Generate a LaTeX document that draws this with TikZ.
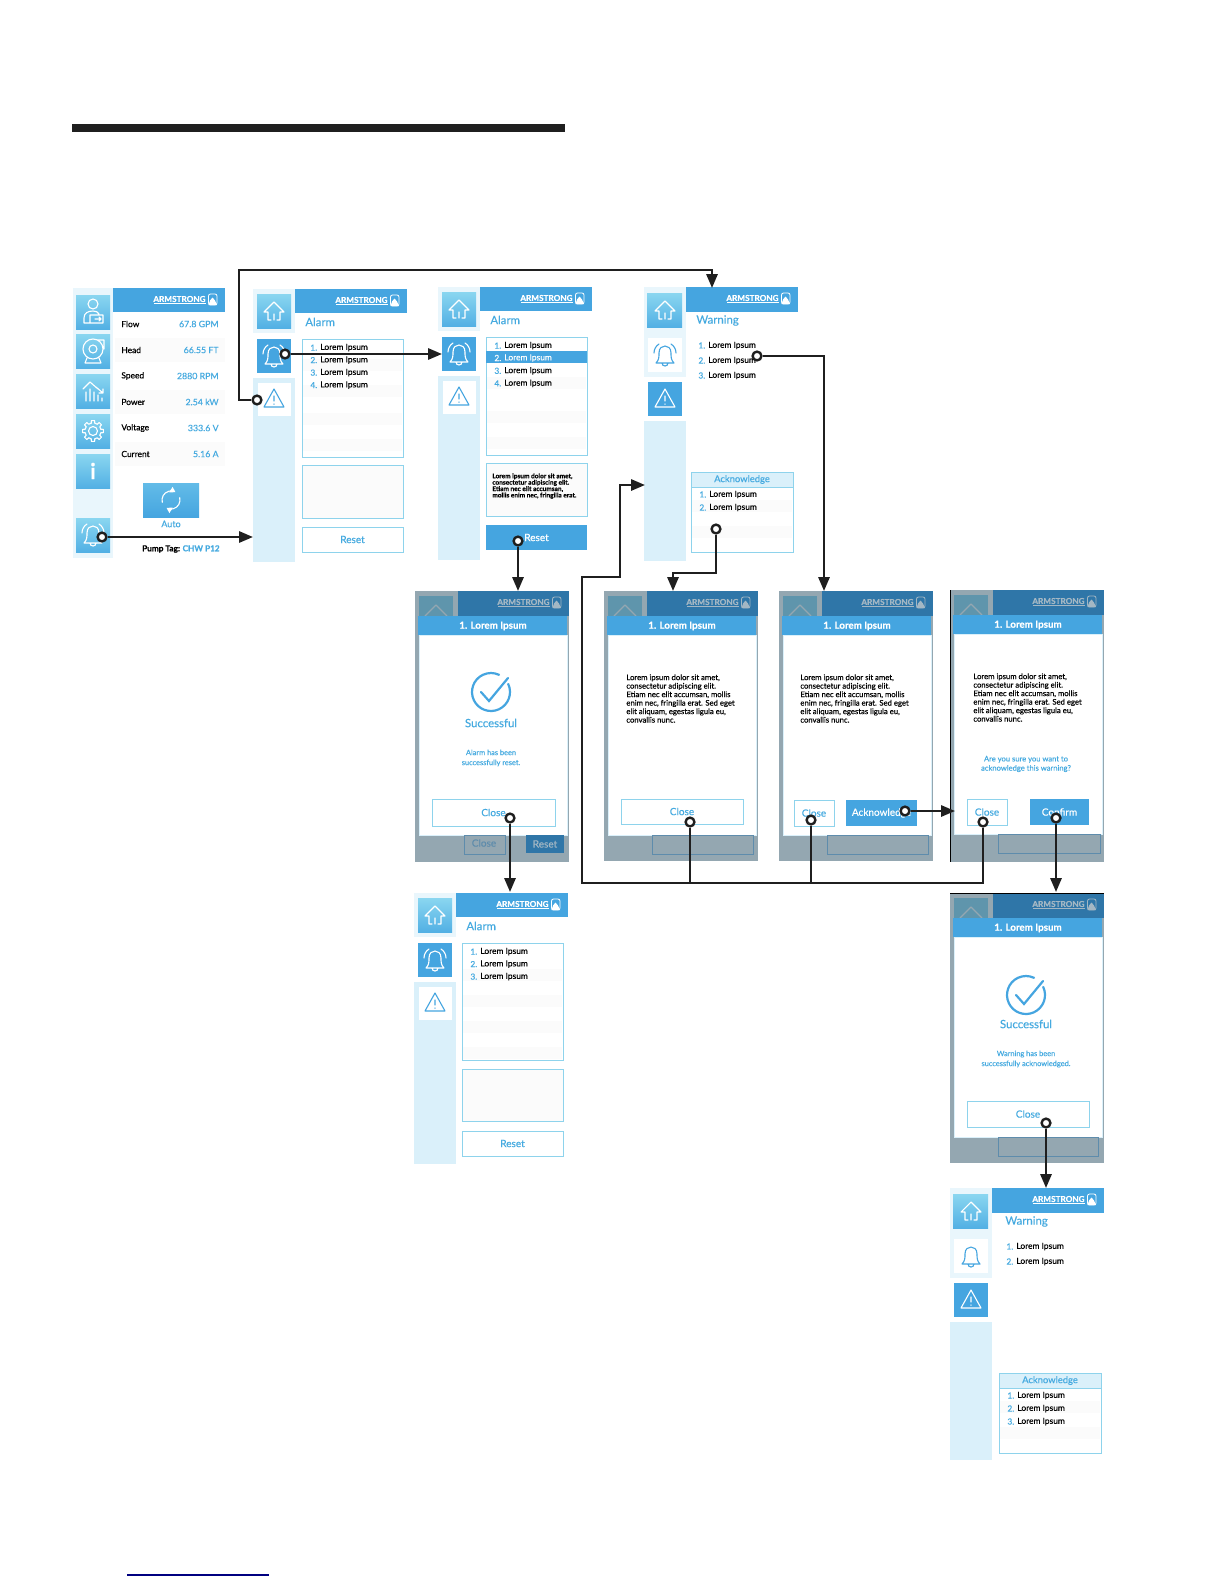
\documentclass[tikz,border=0pt]{standalone}
\usepackage{fontspec}
\setmainfont{Lato}[FakeBold=0.25,BoldFeatures={FakeBold=0.5}]
\usetikzlibrary{arrows.meta}

\definecolor{armblue}{HTML}{45A5E0}
\definecolor{armtext}{HTML}{45AAE0}
\definecolor{armline}{HTML}{8ED3EC}
\definecolor{armpale}{HTML}{DAF0FA}
\definecolor{armfaint}{HTML}{E9F6FC}
\definecolor{armstrip}{HTML}{FBFBFB}
\definecolor{armtop}{HTML}{8AD6F0}
\definecolor{armlow}{HTML}{52B0E4}
\definecolor{dimback}{HTML}{94A7B1}
\definecolor{dimblue}{HTML}{2F76A8}
\definecolor{dimhome}{HTML}{5F95AC}
\definecolor{dimlogo}{HTML}{A3B7C4}
\definecolor{dimedge}{HTML}{5E8CAC}
\definecolor{darkline}{HTML}{1F1F1F}

\tikzset{
  link/.style={line width=1.2pt,draw=darkline,-{Triangle[length=7pt,width=5.6pt]}},
  branch/.style={line width=1.2pt,draw=darkline},
  dot/.style={circle,draw=darkline,fill=white,line width=1.2pt,minimum size=4.4pt,inner sep=0pt},
  iconline/.style={line width=0.55pt,line join=round,line cap=round},
  boxline/.style={draw=armline,line width=0.5pt},
  txt/.style={inner sep=0pt,text=black},
  numtxt/.style={txt,anchor=west,text=armtext,font=\fontsize{4.2}{5}\selectfont},
  itemtxt/.style={txt,anchor=west,font=\fontsize{4.2}{5}\selectfont},
  bluetxt/.style={txt,text=armtext,font=\fontsize{5}{6}\selectfont},
  smalltxt/.style={txt,text=armtext,align=center,font=\fontsize{3.7}{5}\selectfont},
  titletxt/.style={txt,anchor=west,text=armtext,font=\fontsize{5.7}{7}\selectfont},
  bartxt/.style={txt,text=white,font=\fontsize{4.9}{6}\bfseries\selectfont},
  paratxt/.style={txt,anchor=north west,align=left,font=\fontsize{3.85}{4.25}\selectfont},
  logotxt/.style={inner sep=0pt,anchor=east,font=\fontsize{4.1}{5}\bfseries\selectfont},
  button/.style={top color=armtop,bottom color=armlow,draw=none}
}

% icons, y runs downwards
\newcommand{\homeicon}[3]{\draw[iconline,#3,shift={(#1,#2)}]
  (-3,9) -- (-6,9) -- (-6,1) -- (-10,1) -- (0,-9) -- (10,1) -- (6,1) -- (6,9) -- (3,9) (0,9) -- (0,3);}
\newcommand{\bellicon}[3]{\draw[iconline,#3,shift={(#1,#2)}]
  (-9,8) .. controls (-6,5) and (-6,2) .. (-6,-2) .. controls (-6,-7) and (-3,-9) .. (0,-9)
  .. controls (3,-9) and (6,-7) .. (6,-2) .. controls (6,2) and (6,5) .. (9,8) -- cycle
  (-3,8) .. controls (-3,12) and (3,12) .. (3,8);}
\newcommand{\bellwaves}[3]{\draw[iconline,#3,shift={(#1,#2)}]
  (-11,-2) .. controls (-11,-6) and (-9,-9) .. (-6,-11)
  (11,-2) .. controls (11,-6) and (9,-9) .. (6,-11);}
\newcommand{\warnicon}[3]{\draw[iconline,#3,shift={(#1,#2)}]
  (-10,8) -- (0,-10) -- (10,8) -- cycle (0,-3) -- (0,2) (0,5) -- (0,5.4);}
\newcommand{\usericon}[3]{\draw[iconline,#3,shift={(#1,#2)}]
  (0,-8) circle (5) (-9,11) -- (-9,6) .. controls (-9,1) and (-5,-1) .. (0,-1) .. controls (3,-1) and (5,0) .. (6,2)
  (-9,11) -- (10,11) -- (10,3) -- (-3,3) -- (-3,11) (2,7) -- (8,7) (6,5) -- (8,7) -- (6,9);}
\newcommand{\pumpicon}[3]{\draw[iconline,#3,shift={(#1,#2)}]
  (0,-2) circle (10) (0,-2) circle (4) (4,-11) -- (11,-11) -- (11,-2)
  (-6,7) -- (-8,12) -- (8,12) -- (6,7);}
\newcommand{\charticon}[3]{\draw[iconline,#3,shift={(#1,#2)}]
  (-10,-2) -- (-3,-9) -- (5,-2) (3,-4) -- (10,2) (10,-2) -- (10,2) -- (6,2)
  (-7,10) -- (-7,1) (-3,10) -- (-3,-2) (1,10) -- (1,1) (5,10) -- (5,4) (9,10) -- (9,7);}
\newcommand{\gearicon}[3]{\begin{scope}[shift={(#1,#2)}]
  \draw[iconline,#3] (0,0) circle (4.5);
  \foreach \a in {0,45,...,315}
    \draw[iconline,#3] (\a-13:8) -- (\a-9:10.5) -- (\a+9:10.5) -- (\a+13:8) arc (\a+13:\a+32:8);
  \end{scope}}
\newcommand{\syncicon}[3]{\begin{scope}[shift={(#1,#2)}]
  \draw[iconline,#3,-{Triangle[length=2.6pt,width=3pt]}] (165:9) arc (165:300:9);
  \draw[iconline,#3,-{Triangle[length=2.6pt,width=3pt]}] (345:9) arc (345:480:9);
  \end{scope}}
\newcommand{\checkicon}[2]{\draw[line width=1.1pt,armblue,line cap=round,shift={(#1,#2)}]
  (-25:19) arc (-25:295:19) (-10,0) -- (-2,9) -- (17,-14);}

% header with the brand, local origin is the top left of a screen
\newcommand{\brand}[3]{%
  \node[logotxt,text=#2] (#1-logo) at (135,11) {ARMSTRONG};
  \draw[#2,line width=0.35pt] (83,15) -- (135,15);
  \draw[#2,line width=0.4pt,fill=#3,rounded corners=1pt] (137.5,6) rectangle (146,17);
  \fill[#2] (137.5,17) -- (139,12.5) -- (141.5,9.5) -- (144,12.5) -- (146,17) -- cycle;
}
\newcommand{\alarmside}[3]{%
  \fill[armfaint] (0,0) rectangle (42,44);
  \fill[button] (4,5) rectangle (38,39);
  \homeicon{21}{22}{white}
  \fill[armblue] (4,50) rectangle (38,84);
  \bellicon{21}{67}{white}
  \bellwaves{21}{67}{white}
  \fill[armpale] (0,89) rectangle (42,#3);
  \fill[white] (5,94) rectangle (38,127);
  \warnicon{21}{110}{armblue}
  \fill[armblue] (42,0) rectangle (154,24);
  \brand{#1}{white}{armblue}
  \node[titletxt] (#1-title) at (52,33) {#2};
}
\newcommand{\warnside}[3]{%
  \fill[armfaint] (0,0) rectangle (42,90);
  \fill[button] (3,6) rectangle (38,40);
  \homeicon{21}{23}{white}
  \fill[white] (4,51) rectangle (38,85);
  \bellicon{21}{68}{armblue}
  \fill[armblue] (4,95) rectangle (38,129);
  \warnicon{21}{112}{white}
  \fill[armpale] (0,134) rectangle (42,#2);
  \fill[armblue] (42,0) rectangle (154,25);
  \brand{#1}{white}{armblue}
  \node[titletxt] (#1-title) at (#3,33.5) {Warning};
}
\newcommand{\strips}[4]{%
  \foreach \y in {#3} \fill[armstrip] (#1,\y) rectangle (#2,\y+#4);
}
\newcommand{\lorem}[6]{%
  \foreach \n in {#2} {
    \node[numtxt] (#1-n\n) at (#3,{#5+(\n-1)*#6}) {\n.};
    \node[itemtxt] (#1-t\n) at (#4,{#5+(\n-1)*#6}) {Lorem Ipsum};
  }
}
\newcommand{\ackbox}[2]{%
  \draw[boxline,fill=white] (#2,185) rectangle (#2+102,265);
  \draw[boxline,fill=armpale] (#2,185) rectangle node[bluetxt,font=\fontsize{4.7}{6}\selectfont] (#1-ack) {Acknowledge} (#2+102,200);
}
\newcommand{\dialog}[2]{%
  \fill[dimback] (0,0) rectangle (154,#2);
  \fill[dimblue] (43,0) rectangle (154,25);
  \fill[dimhome] (4,5) rectangle (38,25);
  \draw[iconline,dimback] (10,25) -- (21,14) -- (32,25);
  \brand{#1}{dimlogo}{dimblue}
  \fill[armblue] (3,25) rectangle (152,44);
  \node[bartxt] (#1-bar) at (78,35) {1. Lorem Ipsum};
  \draw[draw=armpale,fill=white,line width=0.4pt] (4,44) rectangle (152,244);
}
\newcommand{\closebtn}[6]{\draw[boxline,fill=white] (#2,#3) rectangle node[bluetxt] (#1) {#6} (#4,#5);}
\newcommand{\fillbtn}[6]{\fill[armblue] (#2,#3) rectangle node[bluetxt,text=white] (#1) {#6} (#4,#5);}
\newcommand{\loremtext}{Lorem ipsum dolor sit amet,\\consectetur adipiscing elit.\\Etiam nec elit accumsan, mollis\\enim nec, fringilla erat. Sed eget\\elit aliquam, egestas ligula eu,\\convallis nunc.}

\begin{document}
\begin{tikzpicture}[x=0.5pt,y=-0.5pt]

\useasboundingbox (0,0) rectangle (1224,1584);
\fill[white] (0,0) rectangle (1224,1584);

\fill[darkline] (72,124) rectangle (565,132);
\draw[blue!50!black,line width=0.6pt] (127,1575) -- (269,1575);

% main screen
\begin{scope}[shift={(71,288)}]
  \fill[armfaint] (2,0) rectangle (42,270);
  \foreach \y in {7,46,86,126,166,230} \fill[button] (5,\y) rectangle (39,\y+34);
  \usericon{22}{24}{white}
  \pumpicon{22}{63}{white}
  \charticon{22}{103}{white}
  \gearicon{22}{143}{white}
  \node[inner sep=0pt,text=white,font=\fontsize{11}{12}\bfseries\selectfont] (mainI) at (22,183) {i};
  \bellicon{22}{247}{white}
  \bellwaves{22}{247}{white}
  \fill[armblue] (42,0) rectangle (154,24);
  \brand{main}{white}{armblue}
  \foreach \y in {50,102,154} \fill[armstrip] (44,\y) rectangle (154,\y+24);
  \foreach \lbl/\val/\y in {Flow/67.8 GPM/36,Head/66.55 FT/62,Speed/2880 RPM/88,Power/2.54 kW/114,Voltage/333.6 V/140,Current/5.16 A/166} {
    \node[itemtxt] (main-\lbl) at (50,\y) {\lbl};
    \node[txt,anchor=east,text=armtext,font=\fontsize{4.4}{5}\selectfont] (val-\lbl) at (148,\y) {\val};
  }
  \fill[button,top color=armlow!70!armtop,bottom color=armblue] (72,195) rectangle (128,229);
  \syncicon{100}{212}{white}
  \node[bluetxt,font=\fontsize{4.5}{6}\selectfont] (main-auto) at (100,236) {Auto};
  \node[txt,anchor=east,font=\fontsize{4.1}{5}\bfseries\selectfont] (main-tag) at (149,261) {Pump Tag: \textcolor{armtext}{CHW P12}};
\end{scope}

% alarm screens
\begin{scope}[shift={(253,289)}]
  \alarmside{alarmA}{Alarm}{273}
  \draw[boxline] (49,50) rectangle (150,168);
  \strips{50}{149}{{70},{96},{124},{150}}{12}
  \lorem{alarmA}{1,2,3,4}{57}{67}{58.6}{12.5}
  \draw[boxline,fill=armstrip] (49,176) rectangle (150,229);
  \closebtn{alarmA-reset}{49}{238}{150}{263}{Reset}
\end{scope}

\begin{scope}[shift={(438,287)}]
  \alarmside{alarmB}{Alarm}{273}
  \draw[boxline] (48,50) rectangle (149,168);
  \fill[armblue] (48,64) rectangle (149,76);
  \strips{49}{148}{{90},{124},{150}}{12}
  \lorem{alarmB}{1,3,4}{56}{66}{58.6}{12.6}
  \node[itemtxt,text=white] (alarmB-t2) at (66,71) {Lorem Ipsum};
  \node[numtxt,text=white] (alarmB-n2) at (56,71) {2.};
  \draw[boxline,fill=armstrip] (48,176) rectangle (149,229);
  \node[paratxt,font=\fontsize{3.25}{3.2}\bfseries\selectfont] (alarmB-para) at (54,186) {Lorem ipsum dolor sit amet,\\consectetur adipiscing elit.\\Etiam nec elit accumsan,\\mollis enim nec, fringilla erat.};
  \fillbtn{alarmB-reset}{48}{238}{149}{263}{Reset}
\end{scope}

\begin{scope}[shift={(414,893)}]
  \alarmside{alarmC}{Alarm}{271}
  \draw[boxline] (48,50) rectangle (149,167);
  \strips{49}{148}{{76},{102},{128},{154}}{12}
  \lorem{alarmC}{1,2,3}{56}{66}{58.6}{12.5}
  \draw[boxline,fill=armstrip] (48,176) rectangle (149,228);
  \closebtn{alarmC-reset}{48}{238}{149}{263}{Reset}
\end{scope}

% warning screens
\begin{scope}[shift={(644,287)}]
  \warnside{warnA}{274}{52}
  \bellwaves{21}{68}{armblue}
  \lorem{warnA}{1,2,3}{54}{64}{58.5}{15}
  \ackbox{warnA}{47}
  \strips{48}{148}{{213},{239}}{12}
  \lorem{warnB}{1,2}{55}{65}{207.5}{13}
\end{scope}

\begin{scope}[shift={(950,1188)}]
  \warnside{warnC}{272}{55}
  \lorem{warnC}{1,2}{56}{66}{58.5}{15}
  \ackbox{warnC}{49}
  \strips{50}{150}{{213},{239}}{12}
  \lorem{warnD}{1,2,3}{57}{67}{207.5}{13}
\end{scope}

% pop ups
\begin{scope}[shift={(415,591)}]
  \dialog{popA}{271}
  \draw[draw=dimedge,line width=0.4pt] (49,244) rectangle (90,263);
  \node[bluetxt,text=dimedge] (popA-back) at (69,252) {Close};
  \fill[dimblue] (111,244) rectangle node[bluetxt,text=dimlogo] (popA-backr) {Reset} (149,262);
  \checkicon{76}{101}
  \node[bluetxt,font=\fontsize{5.7}{7}\selectfont] (popA-ok) at (76,132) {Successful};
  \node[smalltxt] (popA-msg) at (76,167) {Alarm has been\\successfully reset.};
  \closebtn{popA-close}{17}{208}{140}{235}{Close}
\end{scope}

\begin{scope}[shift={(604,591)}]
  \dialog{popB}{270}
  \draw[draw=dimedge,line width=0.4pt] (48,244) rectangle (149,263);
  \node[paratxt] (popB-para) at (22,83) {\loremtext};
  \closebtn{popB-close}{17}{208}{139}{233}{Close}
\end{scope}

\begin{scope}[shift={(779,591)}]
  \dialog{popC}{270}
  \draw[draw=dimedge,line width=0.4pt] (48,244) rectangle (149,263);
  \node[paratxt] (popC-para) at (21,83) {\loremtext};
  \closebtn{popC-close}{15}{209}{55}{235}{Close}
  \fillbtn{popC-ack}{67}{209}{138}{235}{Acknowledge}
\end{scope}

\begin{scope}[shift={(950,590)}]
  \dialog{popD}{272}
  \draw[draw=dimedge,line width=0.4pt] (48,244) rectangle (150,263);
  \node[paratxt] (popD-para) at (23,83) {\loremtext};
  \node[smalltxt,font=\fontsize{3.8}{4.6}\selectfont] (popD-msg) at (76,174) {Are you sure you want to\\acknowledge this warning?};
  \closebtn{popD-close}{17}{209}{57}{235}{Close}
  \fillbtn{popD-ok}{80}{209}{139}{235}{Confirm}
  \draw[black,line width=0.5pt] (0,0) -- (0,272);
\end{scope}

\begin{scope}[shift={(950,893)}]
  \dialog{popE}{270}
  \draw[draw=dimedge,line width=0.4pt] (48,244) rectangle (148,263);
  \checkicon{76}{102}
  \node[bluetxt,font=\fontsize{5.7}{7}\selectfont] (popE-ok) at (76,131) {Successful};
  \node[smalltxt] (popE-msg) at (76,166) {Warning has been\\successfully acknowledged.};
  \closebtn{popE-close}{17}{208}{139}{234}{Close}
  \draw[black,line width=0.5pt] (0,0) -- (154,0);
\end{scope}

% connectors
\node[dot] (mainbell) at (102,537) {};
\node[dot] (alarmbell) at (285,354) {};
\node[dot] (alarmwarn) at (257,400) {};
\node[dot] (resetdot) at (518,541) {};
\node[dot] (warnitem) at (757,356) {};
\node[dot] (ackitem) at (716,529) {};
\node[dot] (closeA) at (510,818) {};
\node[dot] (closeB) at (690,822) {};
\node[dot] (closeC) at (811,820) {};
\node[dot] (closeD) at (983,822) {};
\node[dot] (ackdot) at (905,811) {};
\node[dot] (confirmdot) at (1056,818) {};
\node[dot] (closeE) at (1046,1123) {};

\coordinate (alarmAin) at (253,537);
\coordinate (alarmBin) at (442,354);
\coordinate (topleft) at (239,270);
\coordinate (warnAin) at (712,288);
\coordinate (popAin) at (518,591);
\coordinate (popBin) at (673,591);
\coordinate (popCin) at (824,591);
\coordinate (popBmid) at (716,573);
\coordinate (popDin) at (955,811);
\coordinate (popEin) at (1056,892);
\coordinate (alarmCin) at (510,892);
\coordinate (warnCin) at (1046,1188);
\coordinate (backlow) at (582,883);
\coordinate (backup) at (620,577);
\coordinate (warnAside) at (645,485);

\draw[link] (mainbell) -- (alarmAin);
\draw[link] (alarmbell) -- (alarmBin);
\draw[link] (alarmwarn) -| (topleft) -| (warnAin);
\draw[link] (resetdot) -- (popAin);
\draw[link] (warnitem) -| (popCin);
\draw[link] (ackitem) -- (popBmid) -| (popBin);
\draw[link] (closeA) -- (alarmCin);
\draw[link] (closeD) |- (backlow) |- (backup) |- (warnAside);
\draw[branch] (closeB) -- (closeB |- backlow);
\draw[branch] (closeC) -- (closeC |- backlow);
\draw[link] (ackdot) -- (popDin);
\draw[link] (confirmdot) -- (popEin);
\draw[link] (closeE) -- (warnCin);

\end{tikzpicture}
\end{document}
